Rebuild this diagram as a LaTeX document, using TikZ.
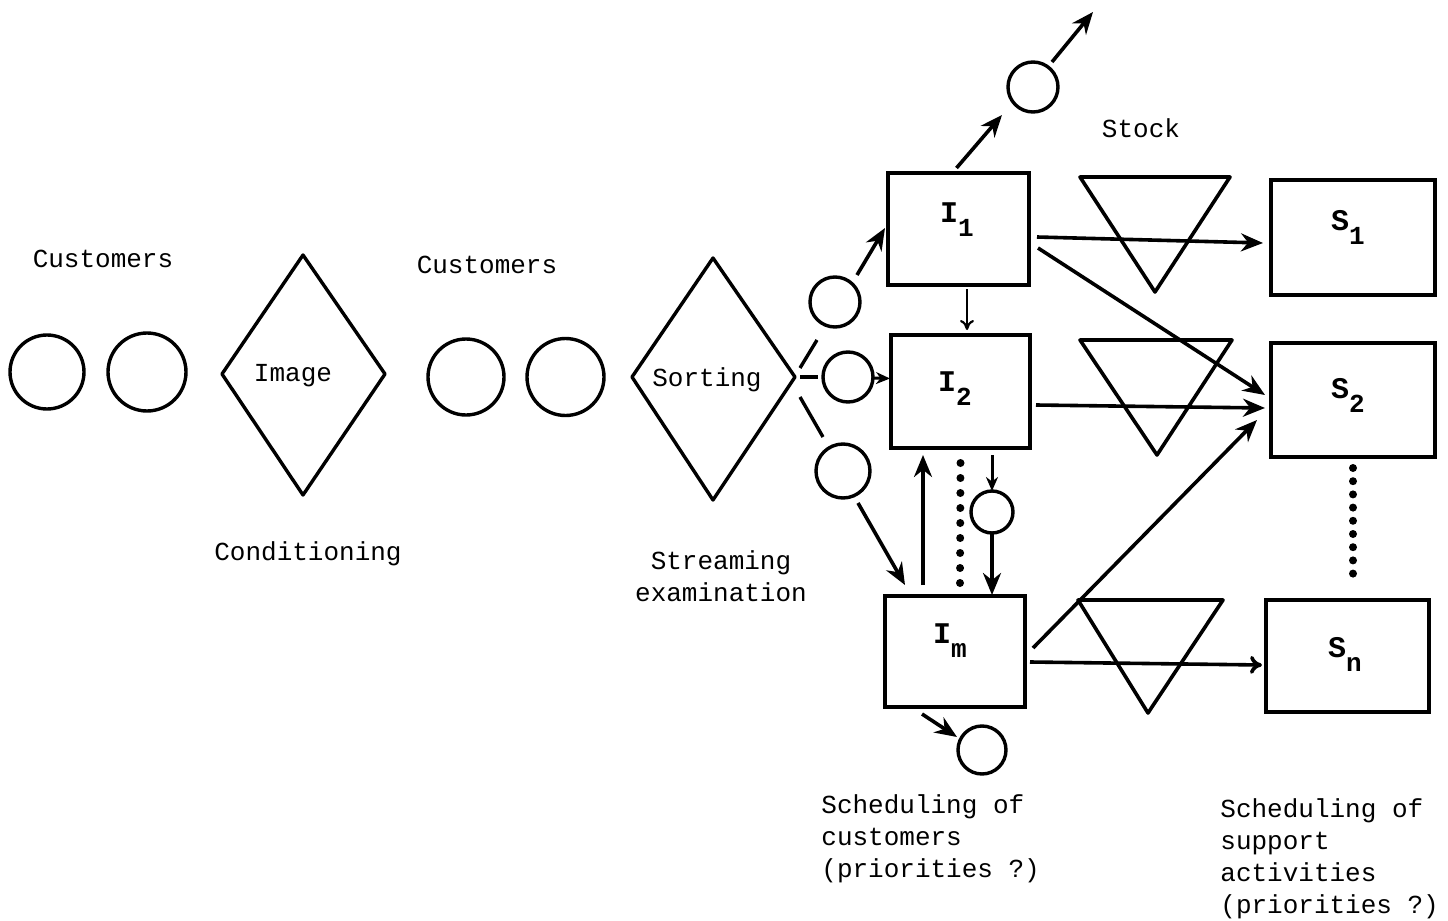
\documentclass[tikz,border=0pt]{standalone}
\usepackage{fontspec}
\setmainfont{Liberation Mono}
\usetikzlibrary{arrows.meta,calc}
\newcommand{\lowidx}[1]{\raisebox{-7pt}{\fontsize{13}{13}\selectfont #1}}
\begin{document}
\begin{tikzpicture}[x=0.5pt,y=-0.5pt,
  every node/.style={font=\fontsize{13}{16}\selectfont},
  thk/.style={line width=1.7pt, line join=round},
  circ/.style={draw, circle, line width=1.7pt, inner sep=0pt, outer sep=0pt},
  box/.style={draw, rectangle, line width=2pt, inner sep=0pt, outer sep=0pt},
  idx/.style={font=\fontsize{15}{16}\selectfont\bfseries},
  arr/.style={line width=1.8pt, -{Stealth[length=11pt,width=9pt]}},
  sarr/.style={line width=1.5pt, -{Stealth[length=7pt,width=6pt]}},
  oarr/.style={line width=1.8pt, -{To[length=6pt,width=9pt]}},
  tarr/.style={line width=1.1pt, -{To[length=5pt,width=7pt]}},
  sline/.style={line width=1.7pt},
  bigdots/.style={line width=4pt, line cap=round, dash pattern=on 0pt off 7.5pt},
  sdots/.style={line width=4pt, line cap=round, dash pattern=on 0pt off 6.6pt},
  tri/.style={line width=1.8pt, line join=round}
]
\useasboundingbox (0,0) rectangle (1448,921);

% left group
\node[circ, minimum size=37pt] (L1) at (47,372) {};
\node[circ, minimum size=39pt] (L2) at (147,372) {};
\node (cust1) at (103,259) {Customers};
\draw[thk] (222,374) -- (303,255) -- (385,374) -- (303,495) -- cycle;
\node (img) at (293,376) {Image};
\node (cond) at (308,554) {Conditioning};

% middle group
\node[circ, minimum size=38pt] (M1) at (466,377) {};
\node[circ, minimum size=38.5pt] (M2) at (565.5,377) {};
\node (cust2) at (487,265) {Customers};
\draw[thk] (632,377) -- (713,258) -- (795,377) -- (713,500) -- cycle;
\coordinate (sortR) at (795,377);
\node (sort) at (707,380) {Sorting};
\node[align=center] (stream) at (721,576) {Streaming\\examination};

% small circles after sorting
\node[circ, minimum size=25pt] (ca) at (835,302) {};
\node[circ, minimum size=25pt] (cb) at (848,377) {};
\node[circ, minimum size=27pt] (cc) at (843,471) {};
\draw[sline] ($(sortR)+(5,-9)$) -- ($(ca)+(-18,38)$);
\draw[sline] ($(sortR)+(5,0)$) -- ($(cb)+(-30,0)$);
\draw[sline] ($(sortR)+(5,20)$) -- ($(cc)+(-20,-34)$);

% I boxes
\node[box, minimum width=70.5pt, minimum height=56pt] (I1) at (958.5,229) {};
\node[box, minimum width=69.5pt, minimum height=56.5pt] (I2) at (960.5,391.5) {};
\node[box, minimum width=70pt, minimum height=55.5pt] (Im) at (955,651.5) {};
\node[idx] (I1t) at (957,220) {I\lowidx{1}};
\node[idx] (I2t) at (955,389) {I\lowidx{2}};
\node[idx] (Imt) at (950,641) {I\lowidx{m}};

% arrows into I boxes
\draw[arr] ($(ca)+(22,-27)$) -- ($(I1.west)+(-3,-1)$);
\draw[sarr] ($(cb)+(25,1)$) -- ($(I2.west)+(-1,-13)$);
\draw[arr] ($(cc)+(15,32)$) -- ($(Im.north west)+(20,-11)$);

% top output
\node[circ, minimum size=25pt] (ct) at (1033,87) {};
\coordinate (out) at (1093,12);
\draw[arr] ($(I1.north)+(-2,-5)$) -- ($(ct)+(-31,28)$);
\draw[arr] ($(ct)+(19,-25)$) -- (out);

% between I boxes
\draw[tarr] ($(I1.south)+(8.5,4)$) -- ($(I2.north)+(6.5,-5)$);
\draw[arr] ($(Im.north)+(-32,-11)$) -- ($(I2.south)+(-37.5,7)$);
\draw[bigdots] ($(I2.south)+(0,15)$) -- ($(Im.north)+(5,-13)$);
\node[circ, minimum size=21pt] (cd) at (992,512) {};
\draw[sarr] ($(I2.south)+(31.5,7)$) -- (cd.north);
\draw[arr] (cd.south) -- ($(Im.north)+(37,-1)$);

% bottom output circle
\node[circ, minimum size=24pt] (ce) at (982,750) {};
\draw[arr] ($(Im.south)+(-33,7)$) -- ($(ce)+(-25,-13)$);

% stock triangles
\draw[tri] (1080,177) -- (1230,177) -- (1155,292) -- cycle;
\draw[tri] (1080,340) -- (1232,340) -- (1157,455) -- cycle;
\draw[tri] (1078,600) -- (1223,600) -- (1148,713) -- cycle;
\node (stock) at (1141,128) {Stock};

% S boxes
\node[box, minimum width=82pt, minimum height=57.5pt] (S1) at (1353,237.5) {};
\node[box, minimum width=82pt, minimum height=57pt] (S2) at (1353,400) {};
\node[box, minimum width=81.5pt, minimum height=56pt] (Sn) at (1347.5,656) {};
\node[idx] (S1t) at (1348,227) {S\lowidx{1}};
\node[idx] (S2t) at (1348,395) {S\lowidx{2}};
\node[idx] (Snt) at (1345,654) {S\lowidx{n}};
\draw[sdots] ($(S2.south)+(0,11)$) -- ($(Sn.north)+(5.5,-15)$);

% arrows to S boxes
\draw[arr] ($(I1.east)+(8,8)$) -- ($(S1.west)+(-8,5.5)$);
\draw[arr] ($(I1.east)+(9,19)$) -- ($(S2.west)+(-6,-5)$);
\draw[arr] ($(I2.east)+(6,13.5)$) -- ($(S2.west)+(-6,8)$);
\draw[arr] ($(Im.east)+(8,-3.5)$) -- ($(S2.west)+(-14,20)$);
\draw[oarr] ($(Im.east)+(5,10.5)$) -- ($(Sn.west)+(-4,9)$);

% bottom texts
\node[align=left, anchor=north west, inner sep=0pt] (sch1) at (821,794) {Scheduling of\\customers\\(priorities ?)};
\node[align=left, anchor=north west, inner sep=0pt] (sch2) at (1220,798) {Scheduling of\\support\\activities\\(priorities ?)};
\end{tikzpicture}
\end{document}
